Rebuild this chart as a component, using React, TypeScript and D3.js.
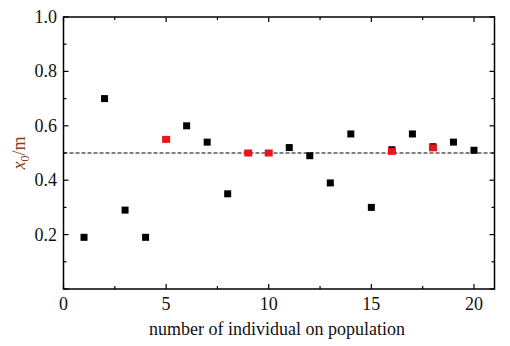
import React from "react";
import * as d3 from "d3";

const blackX = [1, 2, 3, 4, 6, 7, 8, 11, 12, 13, 14, 15, 16, 17, 18, 19, 20];
const blackY = [0.19, 0.70, 0.29, 0.19, 0.60, 0.54, 0.35, 0.52, 0.49, 0.39, 0.57, 0.30, 0.512, 0.57, 0.523, 0.54, 0.51];
const redX = [5, 9, 10, 16, 18];
const redY = [0.55, 0.50, 0.50, 0.506, 0.519];
const xTicks = [0, 5, 10, 15, 20];
const yTicks = [0.2, 0.4, 0.6, 0.8, 1.0];
const refY = 0.5;

export default function App() {
  const W = 510, H = 346;
  const L = 63.5, R = 494.5, T = 17, B = 289;
  const x = d3.scaleLinear().domain([0, 21]).range([L, R]);
  const y = d3.scaleLinear().domain([0, 1]).range([B, T]);
  const xMinor = d3.range(0, 21.01, 2.5);
  const yMinor = d3.range(0, 1.001, 0.1);
  const fs = { fontFamily: '"Liberation Serif", "Times New Roman", "DejaVu Serif", serif' };
  return (
    <svg width={W} height={H} style={{ position: "absolute", left: 0, top: 0 }}>
      <rect width={W} height={H} fill="#fff" />
      <line x1={L} x2={R} y1={y(refY)} y2={y(refY)} stroke="#000" strokeWidth={1} strokeDasharray="4,2" />
      {xMinor.map((v, i) => {
        const major = Math.abs(v % 5) < 1e-6;
        const len = major ? 5 : 3;
        return (
          <g key={"xt" + i}>
            <line x1={x(v)} x2={x(v)} y1={B} y2={B - len} stroke="#000" strokeWidth={1.2} />
            <line x1={x(v)} x2={x(v)} y1={T} y2={T + len} stroke="#000" strokeWidth={1.2} />
          </g>
        );
      })}
      {yMinor.map((v, i) => {
        const major = i % 2 === 0;
        const len = major ? 5 : 3;
        return (
          <g key={"yt" + i}>
            <line x1={L} x2={L + len} y1={y(v)} y2={y(v)} stroke="#000" strokeWidth={1.2} />
            <line x1={R} x2={R - len} y1={y(v)} y2={y(v)} stroke="#000" strokeWidth={1.2} />
          </g>
        );
      })}
      <rect x={L} y={T} width={R - L} height={B - T} fill="none" stroke="#000" strokeWidth={1.5} />
      <g style={fs}>
        {xTicks.map((v) => (
          <text key={"xl" + v} x={x(v)} y={310} textAnchor="middle" fontSize={18} fill="#111">
            {v}
          </text>
        ))}
        {yTicks.map((v) => (
          <text key={"yl" + v} x={57} y={y(v) + 6} textAnchor="end" fontSize={18} fill="#111">
            {v.toFixed(1)}
          </text>
        ))}
        <text x={277} y={335} textAnchor="middle" fontSize={18} fill="#111">
          number of individual on population
        </text>
        <text transform={`translate(25, ${y(0.5)}) rotate(-90)`} textAnchor="middle" fontSize={18} fill="#8B3A1A">
          <tspan fontStyle="italic">x</tspan>
          <tspan fontSize={12} dy={4}>0</tspan>
          <tspan dy={-4}>/m</tspan>
        </text>
      </g>
      {blackX.map((v, i) => (
        <rect key={"b" + i} x={x(v) - 3.5} y={y(blackY[i]) - 3.5} width={7} height={7} fill="#000" />
      ))}
      {redX.map((v, i) => (
        <rect key={"r" + i} x={x(v) - 4} y={y(redY[i]) - 3.5} width={8} height={7} fill="#e8161c" />
      ))}
    </svg>
  );
}
